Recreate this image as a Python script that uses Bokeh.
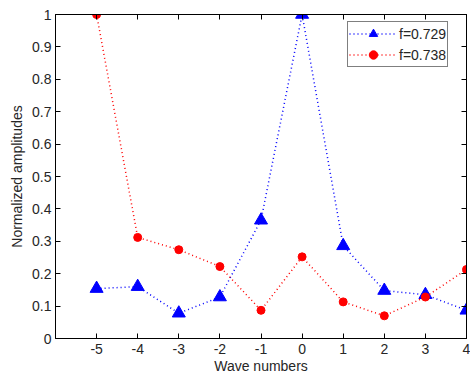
from bokeh.plotting import figure
from bokeh.models import LinearAxis, FixedTicker, Range1d, Legend, LegendItem
from bokeh.embed import file_html
from bokeh.resources import INLINE

# Wave numbers and normalized amplitudes for the two frequencies
wave_numbers = [-5, -4, -3, -2, -1, 0, 1, 2, 3, 4]
amp_f0729 = [0.154, 0.16, 0.078, 0.128, 0.365, 1.0, 0.286, 0.148, 0.135, 0.087]
amp_f0738 = [1.0, 0.312, 0.274, 0.222, 0.087, 0.252, 0.113, 0.07, 0.128, 0.213]
x_ticks = [-5, -4, -3, -2, -1, 0, 1, 2, 3, 4]
y_ticks = [0, 0.1, 0.2, 0.3, 0.4, 0.5, 0.6, 0.7, 0.8, 0.9, 1.0]

FONT = "Liberation Sans"
TEXT = "#262626"

p = figure(width=470, height=379, output_backend="svg", toolbar_location=None,
           x_range=Range1d(-6, 4), y_range=Range1d(0, 1),
           min_border_left=55, min_border_right=4, min_border_top=14, min_border_bottom=41)
p.background_fill_color = "white"
p.border_fill_color = "white"
p.grid.visible = False
p.outline_line_color = "black"
p.outline_line_width = 1

def style_axis(ax):
    ax.major_tick_in = 5
    ax.major_tick_out = 0
    ax.minor_tick_in = 0
    ax.minor_tick_out = 0
    ax.axis_line_color = "black"
    ax.major_tick_line_color = "black"
    ax.major_label_text_font = FONT
    ax.major_label_text_font_size = "14px"
    ax.major_label_text_color = TEXT
    ax.axis_label_text_font = FONT
    ax.axis_label_text_font_size = "14px"
    ax.axis_label_text_font_style = "normal"
    ax.axis_label_text_color = TEXT

p.xaxis.ticker = FixedTicker(ticks=x_ticks)
p.yaxis.ticker = FixedTicker(ticks=y_ticks)
p.xaxis.major_label_overrides = {t: str(t) for t in x_ticks}
p.yaxis.major_label_overrides = {t: f"{t:g}" for t in y_ticks}
p.xaxis.axis_label = "Wave numbers"
p.yaxis.axis_label = "Normalized amplitudes"
style_axis(p.xaxis[0])
style_axis(p.yaxis[0])
p.xaxis.major_label_standoff = 5
p.xaxis.axis_label_standoff = 1
p.yaxis.major_label_standoff = 4
p.yaxis.axis_label_standoff = 4

# Box ticks on the top and right edges, without labels
top_axis = LinearAxis(ticker=FixedTicker(ticks=x_ticks),
                      major_label_overrides={t: "" for t in x_ticks})
right_axis = LinearAxis(ticker=FixedTicker(ticks=y_ticks),
                        major_label_overrides={t: "" for t in y_ticks})
style_axis(top_axis)
style_axis(right_axis)
top_axis.major_label_standoff = 0
right_axis.major_label_standoff = 0
p.add_layout(top_axis, "above")
p.add_layout(right_axis, "right")

blue_line = p.line(wave_numbers, amp_f0729, line_color="blue", line_dash="1 3", line_width=1.5)
blue_pts = p.scatter(wave_numbers, amp_f0729, marker="triangle", size=13,
                     fill_color="blue", line_color="blue")
red_line = p.line(wave_numbers, amp_f0738, line_color="red", line_dash="1 3", line_width=1.5)
red_pts = p.scatter(wave_numbers, amp_f0738, marker="circle", size=8,
                    fill_color="red", line_color="red")

legend = Legend(items=[
    LegendItem(label="f=0.729", renderers=[blue_line, blue_pts]),
    LegendItem(label="f=0.738", renderers=[red_line, red_pts]),
], location=(292, 271))
legend.border_line_color = "black"
legend.border_line_width = 1
legend.label_text_font = FONT
legend.label_text_font_size = "14px"
legend.label_text_color = TEXT
legend.glyph_width = 48
legend.glyph_height = 21
legend.label_standoff = 2
legend.spacing = 0
legend.padding = 1
legend.margin = 0
legend.background_fill_alpha = 1
p.add_layout(legend, "center")

open("out.html", "w").write(file_html(p, INLINE))
